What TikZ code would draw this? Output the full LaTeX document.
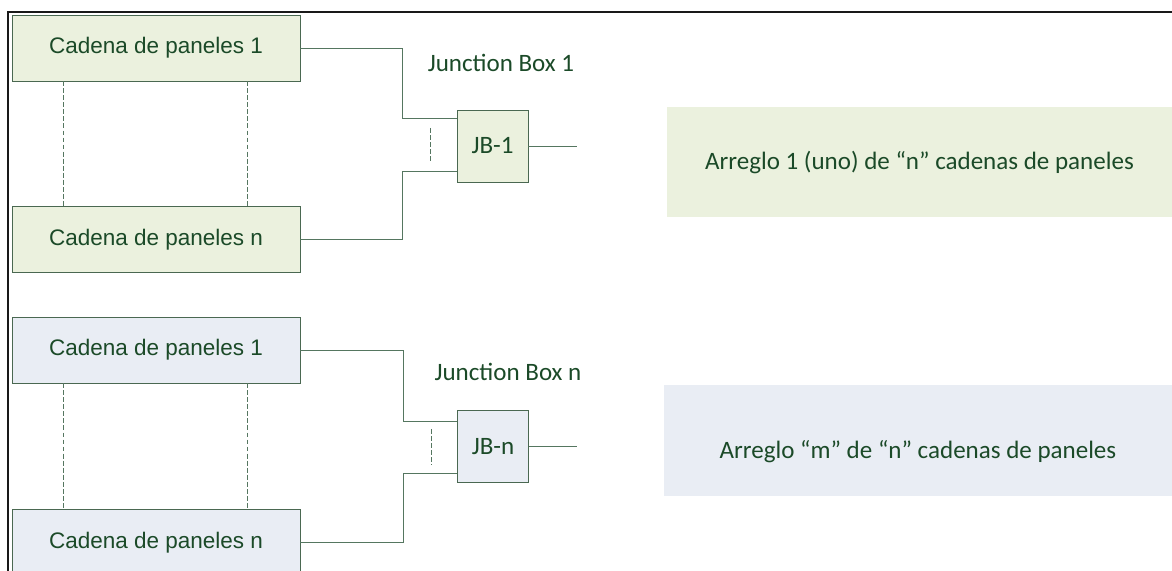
\documentclass[tikz,border=0pt]{standalone}
\usepackage{fontspec}
\usepackage{tikz}
\usetikzlibrary{positioning}
\newfontfamily\arialfont{Liberation Sans}
\newfontfamily\calibrifont{Carlito}
\definecolor{verdeclaro}{HTML}{EBF1DE}
\definecolor{azulclaro}{HTML}{E9EDF4}
\definecolor{verdetexto}{HTML}{1B4A28}
\definecolor{borde}{HTML}{4A6851}
\definecolor{cable}{HTML}{557660}

\begin{document}
\begin{tikzpicture}[x=0.025cm,y=-0.025cm,node distance=5mm,
    cadena/.style={rectangle,draw=borde,minimum width=7.2cm,minimum height=1.65cm,text=verdetexto,font=\arialfont\fontsize{16}{19}\selectfont},
    jbox/.style={rectangle,draw=borde,minimum width=1.775cm,minimum height=1.8cm,text=verdetexto,font=\calibrifont\fontsize{17.8}{21}\selectfont},
    arreglo/.style={rectangle,minimum height=2.75cm,text=verdetexto,font=\calibrifont\fontsize{17.8}{21}\selectfont},
    etiqueta/.style={text=verdetexto,font=\calibrifont\fontsize{17.8}{21}\selectfont},
    wire/.style={cable,line width=0.6pt},
    puntos/.style={cable,line width=0.55pt,dash pattern=on 3.5pt off 1.5pt},
    marco/.style={black!90,line width=1.2pt}
    ]
    \useasboundingbox (0,0) rectangle (1172,571);
    \draw[marco] (1172,12) -- (8,12) -- (8,571);

    % arreglo 1
    \node[cadena,fill=verdeclaro] (a1) at (156,48) {Cadena de paneles 1};
    \node[cadena,fill=verdeclaro,below=3.125cm of a1] (an) {Cadena de paneles n};
    \node[jbox,fill=verdeclaro] (jb1) at (492.5,146) {JB-1};
    \node[etiqueta] (lbl1) at (501,63) {Junction Box 1};
    \node[arreglo,fill=verdeclaro,minimum width=12.625cm] (arr1) at (919.5,162) {Arreglo 1 (uno) de “n” cadenas de paneles};
    \coordinate (sal1) at ([xshift=1.225cm]jb1.east);

    \draw[puntos] ([xshift=1.3cm]a1.south west) -- ([xshift=1.3cm]an.north west);
    \draw[puntos] ([xshift=-1.325cm]a1.south east) -- ([xshift=-1.325cm]an.north east);
    \draw[wire] (a1.east) -| ([xshift=-1.35cm,yshift=-0.225cm]jb1.north west) -- ([yshift=-0.225cm]jb1.north west);
    \draw[wire] (an.east) -| ([xshift=-1.35cm,yshift=0.275cm]jb1.south west) -- ([yshift=0.275cm]jb1.south west);
    \draw[puntos] ([xshift=-0.65cm,yshift=0.45cm]jb1.west) -- ([xshift=-0.65cm,yshift=-0.4cm]jb1.west);
    \draw[wire] (jb1.east) -- (sal1);

    % arreglo m
    \node[cadena,fill=azulclaro] (b1) at (156,350) {Cadena de paneles 1};
    \node[cadena,fill=azulclaro,below=3.15cm of b1] (bn) {Cadena de paneles n};
    \node[jbox,fill=azulclaro] (jbn) at (493,446.5) {JB-n};
    \node[etiqueta] (lbln) at (508,372) {Junction Box n};
    \node[arreglo,fill=azulclaro,minimum width=12.7cm,minimum height=2.775cm,text height=25pt,text depth=0pt] (arrm) at (918,440.5) {Arreglo “m” de “n” cadenas de paneles};
    \coordinate (saln) at ([xshift=1.2cm]jbn.east);

    \draw[puntos] ([xshift=1.3cm]b1.south west) -- ([xshift=1.3cm]bn.north west);
    \draw[puntos] ([xshift=-1.325cm]b1.south east) -- ([xshift=-1.325cm]bn.north east);
    \draw[wire] (b1.east) -| ([xshift=-1.35cm,yshift=-0.275cm]jbn.north west) -- ([yshift=-0.275cm]jbn.north west);
    \draw[wire] (bn.east) -| ([xshift=-1.35cm,yshift=0.225cm]jbn.south west) -- ([yshift=0.225cm]jbn.south west);
    \draw[puntos] ([xshift=-0.64cm,yshift=0.44cm]jbn.west) -- ([xshift=-0.64cm,yshift=-0.46cm]jbn.west);
    \draw[wire] (jbn.east) -- (saln);

  \end{tikzpicture}
\end{document}
